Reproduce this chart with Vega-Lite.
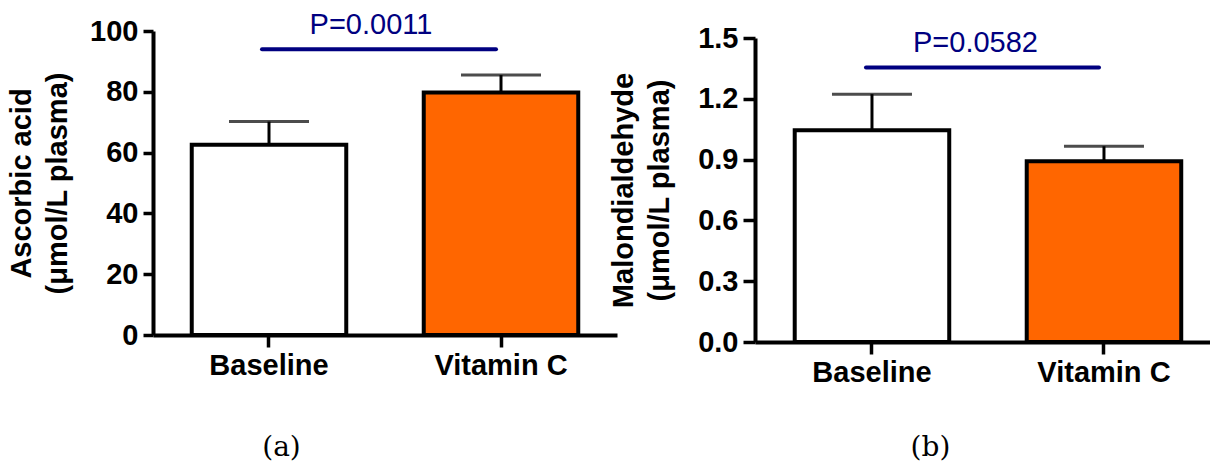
{
  "$schema": "https://vega.github.io/schema/vega-lite/v6.json",
  "padding": {"left": 7, "top": 11, "right": 0, "bottom": 0},
  "background": "white",
  "config": {
    "view": {"stroke": null},
    "font": "Liberation Sans",
    "axis": {
      "grid": false,
      "domainColor": "black",
      "domainWidth": 4,
      "tickColor": "black",
      "tickWidth": 3.5,
      "labelColor": "black",
      "labelFont": "Liberation Sans",
      "labelFontWeight": "bold",
      "labelFontSize": 29,
      "titleColor": "black",
      "titleFont": "Liberation Sans",
      "titleFontWeight": "bold",
      "titleFontSize": 29
    }
  },
  "bounds": "flush",
  "spacing": 138,
  "hconcat": [
    {
      "width": 464,
      "height": 304,
      "data": {"values": [
        {"group": "Baseline", "mean": 62.6, "upper": 70.2},
        {"group": "Vitamin C", "mean": 79.8, "upper": 85.5}
      ]},
      "encoding": {
        "x": {
          "field": "group", "type": "nominal", "sort": null, "title": "(a)",
          "scale": {"paddingInner": 0.334, "paddingOuter": 0.167},
          "axis": {
            "labelAngle": 0, "tickSize": 12, "labelPadding": 4,
            "titleFont": "DejaVu Serif", "titleFontWeight": "normal", "titleFontSize": 28,
            "titleX": 128, "titleY": 120, "titleBaseline": "alphabetic", "titleAlign": "center"
          }
        }
      },
      "layer": [
        {
          "mark": {"type": "bar", "stroke": "black", "strokeWidth": 4},
          "encoding": {
            "y": {
              "field": "mean", "type": "quantitative",
              "title": ["Ascorbic acid", "(μmol/L plasma)"],
              "scale": {"domain": [0, 100], "nice": false},
              "axis": {
                "values": [0, 10, 20, 30, 40, 50, 60, 70, 80, 90, 100],
                "labelExpr": "datum.value % 20 == 0 ? datum.label : ''",
                "tickSize": 10, "labelPadding": 5, "titlePadding": 17, "titleLineHeight": 36
              }
            },
            "fill": {
              "field": "group", "type": "nominal",
              "scale": {"domain": ["Baseline", "Vitamin C"], "range": ["#FFFFFF", "#FF6600"]},
              "legend": null
            }
          }
        },
        {
          "mark": {"type": "rule", "color": "black", "strokeWidth": 3},
          "encoding": {
            "y": {"field": "mean", "type": "quantitative", "title": ["Ascorbic acid", "(μmol/L plasma)"]},
            "y2": {"field": "upper"}
          }
        },
        {
          "mark": {"type": "tick", "orient": "horizontal", "size": 80, "thickness": 3, "color": "black"},
          "encoding": {
            "y": {"field": "upper", "type": "quantitative", "title": ["Ascorbic acid", "(μmol/L plasma)"]}
          }
        },
        {
          "data": {"values": [{"from": "Baseline", "to": "Vitamin C", "level": 94, "label": "P=0.0011"}]},
          "layer": [
            {
              "mark": {"type": "rule", "color": "#000080", "strokeWidth": 4, "strokeCap": "round", "xOffset": -7, "x2Offset": -5},
              "encoding": {
                "x": {"field": "from", "type": "nominal", "title": "(a)"},
                "x2": {"field": "to"},
                "y": {"field": "level", "type": "quantitative", "title": ["Ascorbic acid", "(μmol/L plasma)"]}
              }
            },
            {
              "mark": {"type": "text", "color": "#000080", "fontSize": 29, "font": "Liberation Sans", "dx": 102, "dy": -15, "baseline": "alphabetic", "align": "center"},
              "encoding": {
                "x": {"field": "from", "type": "nominal", "title": "(a)"},
                "y": {"field": "level", "type": "quantitative", "title": ["Ascorbic acid", "(μmol/L plasma)"]},
                "text": {"field": "label"}
              }
            }
          ]
        }
      ]
    },
    {
      "width": 455,
      "height": 311,
      "data": {"values": [
        {"group": "Baseline", "mean": 1.045, "upper": 1.223},
        {"group": "Vitamin C", "mean": 0.892, "upper": 0.966}
      ]},
      "encoding": {
        "x": {
          "field": "group", "type": "nominal", "sort": null, "title": "(b)",
          "scale": {"paddingInner": 0.334, "paddingOuter": 0.1476, "align": 0.58},
          "axis": {
            "labelAngle": 0, "tickSize": 12, "labelPadding": 4,
            "titleFont": "DejaVu Serif", "titleFontWeight": "normal", "titleFontSize": 28,
            "titleX": 175, "titleY": 113, "titleBaseline": "alphabetic", "titleAlign": "center"
          }
        }
      },
      "layer": [
        {
          "mark": {"type": "bar", "stroke": "black", "strokeWidth": 4},
          "encoding": {
            "y": {
              "field": "mean", "type": "quantitative",
              "title": ["Malondialdehyde", "(μmol/L plasma)"],
              "scale": {"domain": [0, 1.5], "nice": false, "range": [311, 7]},
              "axis": {
                "values": [0, 0.15, 0.3, 0.45, 0.6, 0.75, 0.9, 1.05, 1.2, 1.35, 1.5],
                "labelExpr": "round(datum.value * 100) % 30 == 0 ? format(datum.value, '.1f') : ''",
                "tickSize": 12, "labelPadding": 5, "titlePadding": 23, "titleLineHeight": 36
              }
            },
            "fill": {
              "field": "group", "type": "nominal",
              "scale": {"domain": ["Baseline", "Vitamin C"], "range": ["#FFFFFF", "#FF6600"]},
              "legend": null
            }
          }
        },
        {
          "mark": {"type": "rule", "color": "black", "strokeWidth": 3},
          "encoding": {
            "y": {"field": "mean", "type": "quantitative", "title": ["Malondialdehyde", "(μmol/L plasma)"]},
            "y2": {"field": "upper"}
          }
        },
        {
          "mark": {"type": "tick", "orient": "horizontal", "size": 80, "thickness": 3, "color": "black"},
          "encoding": {
            "y": {"field": "upper", "type": "quantitative", "title": ["Malondialdehyde", "(μmol/L plasma)"]}
          }
        },
        {
          "data": {"values": [{"from": "Baseline", "to": "Vitamin C", "level": 1.355, "label": "P=0.0582"}]},
          "layer": [
            {
              "mark": {"type": "rule", "color": "#000080", "strokeWidth": 4, "strokeCap": "round", "xOffset": -6, "x2Offset": -5},
              "encoding": {
                "x": {"field": "from", "type": "nominal", "title": "(b)"},
                "x2": {"field": "to"},
                "y": {"field": "level", "type": "quantitative", "title": ["Malondialdehyde", "(μmol/L plasma)"]}
              }
            },
            {
              "mark": {"type": "text", "color": "#000080", "fontSize": 29, "font": "Liberation Sans", "dx": 103.5, "dy": -15, "baseline": "alphabetic", "align": "center"},
              "encoding": {
                "x": {"field": "from", "type": "nominal", "title": "(b)"},
                "y": {"field": "level", "type": "quantitative", "title": ["Malondialdehyde", "(μmol/L plasma)"]},
                "text": {"field": "label"}
              }
            }
          ]
        }
      ]
    }
  ]
}
